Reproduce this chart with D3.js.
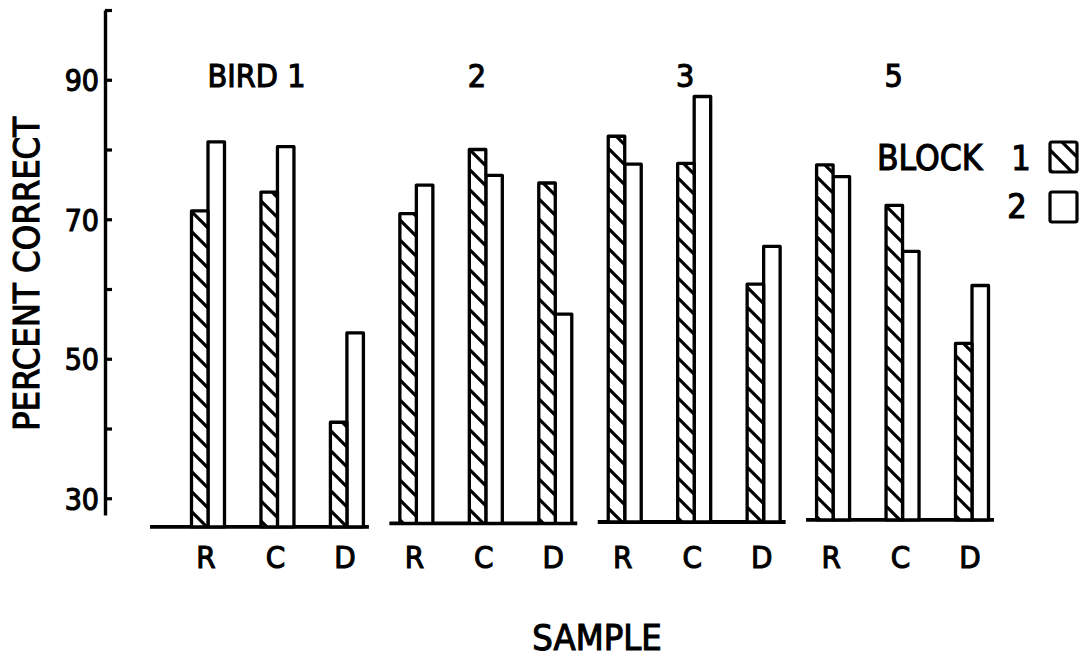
<!DOCTYPE html>
<html>
<head>
<meta charset="utf-8">
<script src="https://cdnjs.cloudflare.com/ajax/libs/d3/7.8.5/d3.min.js"></script>
<style>
  body { margin: 0; background: #fff; }
  svg text { font-family: "DejaVu Sans Condensed", "Liberation Sans Narrow", "DejaVu Sans", sans-serif; font-stretch: condensed; fill: #000; stroke: #000; stroke-width: 1.1px; }
</style>
</head>
<body>
<script>
// data
var birds = ["1", "2", "3", "5"];
var samples = ["R", "C", "D"];
var block1 = [71.2, 73.9, 40.9,  70.8, 80.0, 75.2,  81.9, 78.0, 60.7,  77.8, 72.0, 52.2];
var block2 = [81.1, 80.4, 53.7,  74.9, 76.3, 56.4,  77.9, 87.6, 66.1,  76.1, 65.4, 60.5];
var floors = [25.9, 26.4, 26.6, 26.9];   // where each bird's baseline sits (percent units)
var yTicks = [100, 90, 80, 70, 60, 50, 40, 30];
var yLabels = [90, 70, 50, 30];

var width = 1088, height = 657;

var svg = d3.select("body")
  .append("svg")
  .attr("width", width)
  .attr("height", height);

// hatch pattern for block 1
var defs = svg.append("defs");
var pat = defs.append("pattern")
  .attr("id", "hatch")
  .attr("patternUnits", "userSpaceOnUse")
  .attr("width", 20)
  .attr("height", 20);
pat.append("rect").attr("width", 20).attr("height", 20).attr("fill", "#fff");
pat.append("path")
  .attr("d", "M-5,-5L25,25M-5,15L5,25M15,-5L25,5")
  .attr("stroke", "#000")
  .attr("stroke-width", 3.2);

// flatten into rows
var rows = [];
birds.forEach(function (b, i) {
  samples.forEach(function (s, j) {
    var k = i * 3 + j;
    rows.push({ key: b + s, bird: b, bi: i, sample: s, b1: block1[k], b2: block2[k] });
  });
});

var x = d3.scalePoint()
  .domain(rows.map(d => d.key))
  .range([208, 972]);

var y = d3.scaleLinear()
  .domain([27.6, 100])
  .range([515, 10]);

var barW = 16.5;

// y axis, ticks pointing right
var yAxis = svg.append("g")
  .attr("transform", "translate(105,0)")
  .call(d3.axisLeft(y)
    .tickValues(yTicks)
    .tickSizeInner(-7)
    .tickSizeOuter(0)
    .tickPadding(6)
    .tickFormat(d => yLabels.indexOf(d) >= 0 ? d : ""));
yAxis.select(".domain").attr("stroke-width", 3.4);
yAxis.selectAll(".tick line").attr("stroke-width", 3.2);
yAxis.selectAll(".tick text")
  .style("font-size", "30px")
  .attr("dy", "0.36em");

// baselines per bird
birds.forEach(function (b, i) {
  var first = x(b + "R"), last = x(b + "D");
  svg.append("line")
    .attr("x1", first - (i == 0 ? 58 : 27))
    .attr("x2", last + 22)
    .attr("y1", y(floors[i]))
    .attr("y2", y(floors[i]))
    .attr("stroke", "#000")
    .attr("stroke-width", 3.8);
});

// bars
var g = svg.selectAll(".pair")
  .data(rows)
  .enter()
  .append("g")
  .attr("class", "pair");

g.append("rect")       // block 2 (open)
  .attr("x", d => x(d.key))
  .attr("width", barW)
  .attr("y", d => y(d.b2))
  .attr("height", d => y(floors[d.bi]) - y(d.b2))
  .attr("fill", "#fff")
  .attr("stroke", "#000")
  .attr("stroke-width", 3.3)
  .attr("stroke-linejoin", "round");

g.append("rect")       // block 1 (hatched)
  .attr("x", d => x(d.key) - barW)
  .attr("width", barW)
  .attr("y", d => y(d.b1))
  .attr("height", d => y(floors[d.bi]) - y(d.b1))
  .attr("fill", "url(#hatch)")
  .attr("stroke", "#000")
  .attr("stroke-width", 3.3)
  .attr("stroke-linejoin", "round");

// sample labels
svg.selectAll(".slabel")
  .data(rows)
  .enter()
  .append("text")
  .attr("x", d => x(d.key) - 2)
  .attr("y", 568)
  .attr("text-anchor", "middle")
  .style("font-size", "31px")
  .text(d => d.sample);

// bird labels
birds.forEach(function (b, i) {
  var cx = x(b + "C");
  svg.append("text")
    .attr("x", i == 0 ? cx + 28 : cx - 9)
    .attr("y", 87)
    .attr("text-anchor", i == 0 ? "end" : "middle")
    .style("font-size", "32px")
    .text(i == 0 ? "BIRD " + b : b);
});

// axis titles
svg.append("text")
  .text("PERCENT CORRECT")
  .attr("text-anchor", "middle")
  .attr("transform", "translate(39,274) rotate(-90)")
  .style("font-size", "36px");

svg.append("text")
  .text("SAMPLE")
  .attr("text-anchor", "middle")
  .attr("x", 597)
  .attr("y", 650)
  .style("font-size", "36px");

// legend
var legend = svg.append("g");
legend.append("text").text("BLOCK").attr("x", 877).attr("y", 170).style("font-size", "35px");
legend.append("text").text("1").attr("x", 1021).attr("y", 170).attr("text-anchor", "middle").style("font-size", "34px");
legend.append("text").text("2").attr("x", 1017).attr("y", 218).attr("text-anchor", "middle").style("font-size", "34px");
legend.append("rect")
  .attr("x", 1050).attr("y", 142).attr("width", 27).attr("height", 30).attr("rx", 2)
  .attr("fill", "url(#hatch)").attr("stroke", "#000").attr("stroke-width", 3.2);
legend.append("rect")
  .attr("x", 1050).attr("y", 192).attr("width", 27).attr("height", 30).attr("rx", 2)
  .attr("fill", "#fff").attr("stroke", "#000").attr("stroke-width", 3.2);
</script>
</body>
</html>
